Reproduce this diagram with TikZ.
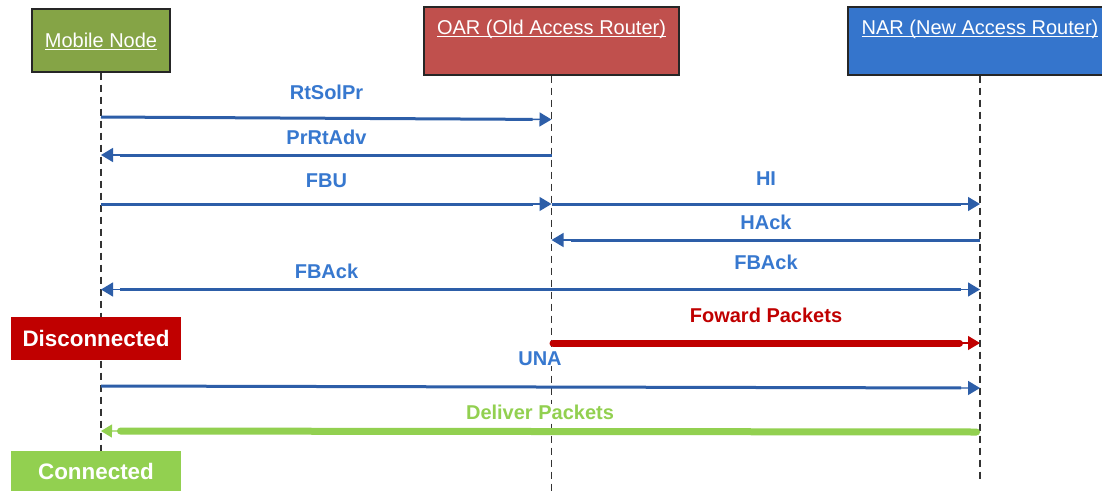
\documentclass[tikz,border=0pt]{standalone}
\usepackage{fontspec}
\setmainfont{Liberation Sans}
\usetikzlibrary{arrows.meta}

\definecolor{mnfill}{HTML}{85A446}
\definecolor{oarfill}{HTML}{C0504D}
\definecolor{narfill}{HTML}{3575CC}
\definecolor{boxline}{HTML}{262626}
\definecolor{lifegray}{HTML}{333333}
\definecolor{arrowblue}{HTML}{2D5EA8}
\definecolor{labelblue}{HTML}{3778CF}
\definecolor{myred}{HTML}{C00000}
\definecolor{mygreen}{HTML}{92D050}

% underlined white title text with an Arial-like underline position
\newcommand\titleul[1]{\sbox0{#1}\rlap{\color{white}\rule[-3pt]{\wd0}{1.1pt}}\usebox0}

\begin{document}
\begin{tikzpicture}[x=1pt, y=-1pt,
  actor/.style={draw=boxline, line width=1.2pt, inner sep=0pt},
  title/.style={text=white, font=\fontsize{20}{24}\selectfont, anchor=base, inner sep=0pt},
  life/.style={draw=lifegray, line width=1.2pt, dash pattern=on 7pt off 5pt},
  msg/.style={draw=arrowblue, line width=1.4pt, -{Triangle[length=12pt,width=14pt]},
    postaction={draw, line width=3pt, -, shorten >=19pt}},
  msgboth/.style={draw=arrowblue, line width=1.4pt,
    {Triangle[length=12pt,width=14pt]}-{Triangle[length=12pt,width=14pt]},
    postaction={draw, line width=3pt, -, shorten >=19pt, shorten <=19pt}},
  fwd/.style={draw=myred, line width=1.4pt, -{Triangle[length=12pt,width=14pt]},
    postaction={draw, line width=7pt, line cap=round, -, shorten >=20.5pt, shorten <=1.5pt}},
  deliver/.style={draw=mygreen, line width=1.4pt, -{Triangle[length=11pt,width=13pt]},
    postaction={draw, line width=7pt, line cap=round, -, shorten >=19.5pt, shorten <=3.5pt}},
  msglabel/.style={text=labelblue, font=\bfseries\fontsize{20}{24}\selectfont,
    fill=white, inner sep=1pt, anchor=base},
  state/.style={text=white, font=\bfseries\fontsize{22.4}{26}\selectfont,
    minimum width=170pt, inner sep=0pt}
]
\useasboundingbox (0,0) rectangle (1102,491);
\fill[white] (0,0) rectangle (1102,491);
\clip (0,0) rectangle (1102,491);

% participants
\node[actor, fill=mnfill, minimum width=138pt, minimum height=63pt] (mn) at (101,40.5) {};
\node[actor, fill=oarfill, minimum width=255pt, minimum height=68pt] (oar) at (551.5,41) {};
\node[actor, fill=narfill, minimum width=264pt, minimum height=68pt] (nar) at (980,41) {};
\node[title] (mnt) at (101,47) {\titleul{Mobile Node}};
\node[title] (oart) at (551.5,34) {\titleul{OAR (Old Access Router)}};
\node[title] (nart) at (980,34) {\titleul{NAR (New Access Router)}};

% lifelines
\coordinate (mnend) at (101,491);
\coordinate (oarend) at (551.5,491);
\coordinate (narend) at (980,482);
\draw[life] (mn.south) -- (mnend);
\draw[life] (oar.south) -- (oarend);
\draw[life] (nar.south) -- (narend);

% messages
\draw[msg] (mn |- 0,117) -- (oar |- 0,119.5);
\draw[msg] (oar |- 0,155) -- (mn |- 0,155);
\draw[msg] (mn |- 0,204) -- (oar |- 0,204);
\draw[msg] (oar |- 0,204) -- (nar |- 0,204);
\draw[msg] (nar |- 0,240) -- (oar |- 0,240);
\draw[msgboth] (mn |- 0,289.5) -- (nar |- 0,289.5);
\draw[fwd] (oar |- 0,343) -- (nar |- 0,343);
\draw[msg] (mn |- 0,386) -- (nar |- 0,388);
\draw[deliver] (nar |- 0,432) -- (mn |- 0,431);

% message labels
\node[msglabel] (lrtsol) at (326.5,99) {RtSolPr};
\node[msglabel] (lprrt) at (326.5,144) {PrRtAdv};
\node[msglabel] (lfbu) at (326.5,187) {FBU};
\node[msglabel] (lhi) at (766,185) {HI};
\node[msglabel] (lhack) at (766,229) {HAck};
\node[msglabel] (lfbackmn) at (326.5,278) {FBAck};
\node[msglabel] (lfbacknar) at (766,269) {FBAck};
\node[msglabel, text=myred] (lfwd) at (766,322) {Foward Packets};
\node[msglabel] (luna) at (540,365) {UNA};
\node[msglabel, text=mygreen] (ldel) at (540,419) {Deliver Packets};

% connection states of the mobile node
\node[state, fill=myred, minimum height=43pt] (disc) at (96,338.5) {Disconnected};
\node[state, fill=mygreen, minimum height=40pt] (conn) at (96,471) {Connected};
\end{tikzpicture}
\end{document}
